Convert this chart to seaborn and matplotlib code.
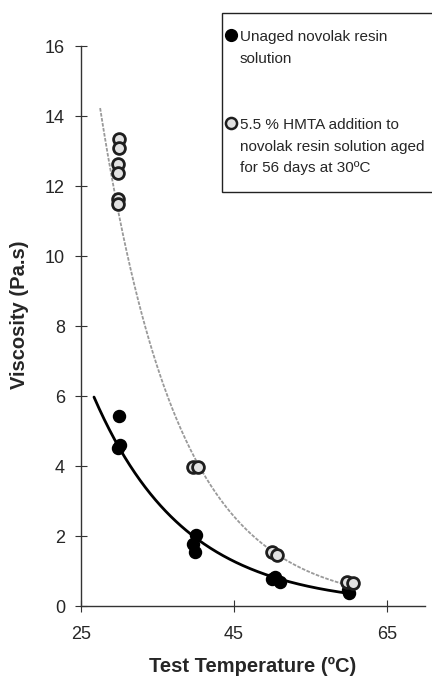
import numpy as np
import pandas as pd
import matplotlib.pyplot as plt
import seaborn as sns
from matplotlib.lines import Line2D

# datos
temp_sin_envejecer = [30.0, 30.1, 29.9, 40.0, 39.6, 39.9, 50.4, 51.0, 50.0, 59.9, 60.0]
visc_sin_envejecer = [5.43, 4.60, 4.52, 2.03, 1.77, 1.53, 0.83, 0.69, 0.76, 0.46, 0.36]

temp_envejecida = [30.0, 30.0, 29.9, 29.9, 29.8, 29.9, 39.6, 40.3, 50.0, 50.6, 59.8, 60.6]
visc_envejecida = [13.34, 13.10, 12.63, 12.37, 11.62, 11.48, 3.97, 3.97, 1.54, 1.46, 0.69, 0.66]

# lineas de tendencia exponenciales y = A * exp(B * T), estimadas del grafico
tendencia_sin_envejecer = {'A': 56.7, 'B': -0.0843, 'desde': 26.7, 'hasta': 60.0}
tendencia_envejecida = {'A': 210.7, 'B': -0.098, 'desde': 27.5, 'hasta': 60.3}

etiqueta_1 = ['Unaged novolak resin', 'solution']
etiqueta_2 = ['5.5 % HMTA addition to', 'novolak resin solution aged', 'for 56 days at 30ºC']


def curva(t):
    xs = np.linspace(t['desde'], t['hasta'], 200)
    return pd.DataFrame({'temp': xs, 'visc': t['A'] * np.exp(t['B'] * xs)})


sns.set_theme(style="white")
plt.rcParams['font.family'] = ['Liberation Sans', 'DejaVu Sans']

df1 = pd.DataFrame({'temp': temp_sin_envejecer, 'visc': visc_sin_envejecer})
df2 = pd.DataFrame({'temp': temp_envejecida, 'visc': visc_envejecida})

fig = plt.figure(figsize=(4.32, 6.79), dpi=100)
ax = fig.add_axes([0.1875, 0.1075, 0.7965, 0.8245])

# curvas de tendencia
sns.lineplot(data=curva(tendencia_sin_envejecer), x='temp', y='visc', ax=ax,
             color='black', lw=2.0, zorder=2)
sns.lineplot(data=curva(tendencia_envejecida), x='temp', y='visc', ax=ax,
             color='#9a9a9a', lw=1.3, ls=(0, (2, 0.8)), zorder=2)

# puntos
estilo_1 = dict(color='black', s=75, edgecolor='black', linewidth=1)
estilo_2 = dict(color='#e2e2e2', s=72, edgecolor='#1e1e1e', linewidth=2.0)
sns.scatterplot(data=df1, x='temp', y='visc', ax=ax, zorder=3, **estilo_1)
sns.scatterplot(data=df2, x='temp', y='visc', ax=ax, zorder=3, **estilo_2)

ax.set_xlim(25, 70)
ax.set_ylim(0, 16)
ax.set_xticks([25, 45, 65])
ax.set_yticks(range(0, 17, 2))
ax.tick_params(direction='inout', length=9, width=0.8, color='#333333',
               labelsize=13, bottom=True, left=True)
ax.tick_params(axis='x', pad=10)
ax.tick_params(axis='y', pad=7)
for lado in ['top', 'right']:
    ax.spines[lado].set_visible(False)
for lado in ['left', 'bottom']:
    ax.spines[lado].set_color('#333333')
    ax.spines[lado].set_linewidth(1.0)

ax.set_xlabel('Test Temperature (ºC)', fontsize=14.5, fontweight='bold', labelpad=10)
ax.set_ylabel('Viscosity (Pa.s)', fontsize=14.5, fontweight='bold')
ax.yaxis.set_label_coords(-0.15, 0.52)

# leyenda: marcador junto a la primera linea de cada etiqueta
vacio = Line2D([], [], linestyle='none', marker=None)
m1 = Line2D([], [], linestyle='none', marker='o', markersize=8.5,
            markerfacecolor='black', markeredgecolor='black')
m2 = Line2D([], [], linestyle='none', marker='o', markersize=8,
            markerfacecolor='#e2e2e2', markeredgecolor='#1e1e1e', markeredgewidth=1.8)
manejadores = [m1, vacio, vacio, vacio, m2, vacio, vacio]
textos = [etiqueta_1[0], etiqueta_1[1], ' ', ' ', etiqueta_2[0], etiqueta_2[1], etiqueta_2[2]]

ley = ax.legend(manejadores, textos, loc='upper left',
                bbox_to_anchor=(222 / 432, 1 - 13 / 679),
                bbox_transform=fig.transFigure, frameon=True, fancybox=False,
                edgecolor='#222222', framealpha=1, fontsize=11, labelspacing=0.52,
                handlelength=-1.0, handletextpad=1.08,
                borderpad=1.1, borderaxespad=0)
ley.get_frame().set_linewidth(1.0)

fig.savefig('out.png', dpi=100)
